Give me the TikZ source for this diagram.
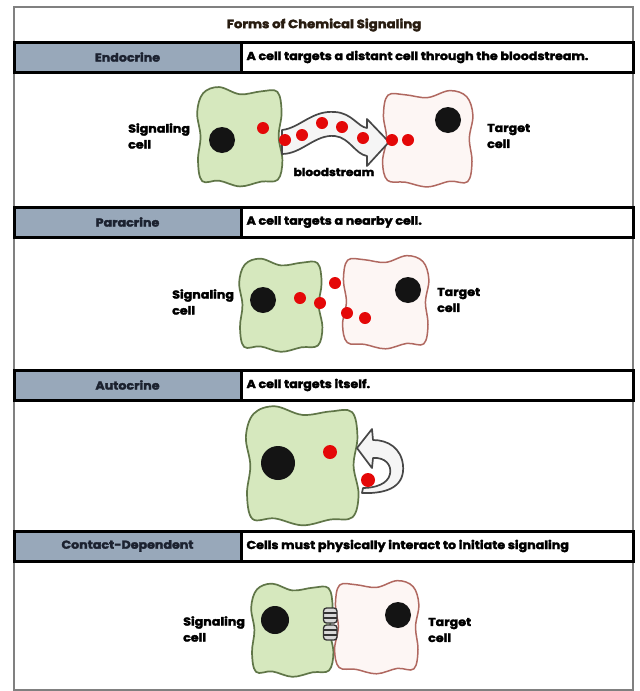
\documentclass[tikz,border=0pt]{standalone}
\usepackage{fontspec}
\setmainfont{Poppins}[BoldFeatures={FakeStretch=1.1,FakeBold=2.5}]
\definecolor{hdrgray}{RGB}{152,168,186}
\definecolor{hdrtext}{RGB}{28,34,48}
\definecolor{titletext}{RGB}{40,28,16}
\definecolor{sigfill}{RGB}{214,232,190}
\definecolor{sigline}{RGB}{96,118,72}
\definecolor{tgtfill}{RGB}{253,246,244}
\definecolor{tgtline}{RGB}{176,104,96}
\definecolor{ligred}{RGB}{228,8,8}
\tikzset{
  frame/.style={draw=black!50, line width=1.2pt},
  hdrbox/.style={draw=black, line width=3pt},
  hdrname/.style={font=\bfseries\fontsize{11.5}{13}\selectfont, text=hdrtext},
  hdrdesc/.style={font=\bfseries\fontsize{11.5}{13}\selectfont, anchor=west},
  lbl/.style={font=\bfseries\fontsize{11.5}{16}\selectfont, align=left, anchor=west, inner sep=0pt},
  sigcell/.style={draw=sigline, fill=sigfill, line width=1.7pt},
  tgtcell/.style={draw=tgtline, fill=tgtfill, line width=1.5pt},
  nucleus/.style={fill=black!92},
  ligand/.style={fill=ligred},
  hollowarrow/.style={draw=black!72, fill=black!4, line width=1.7pt, line join=round},
  % wavy cell outline in unit coordinates (y grows downwards)
  blob/.pic={
    \path[pic actions] plot[smooth cycle, tension=0.6] coordinates {
      (-0.88,-0.9) (-0.5,-1.03) (0,-0.88) (0.5,-0.94) (0.89,-0.93)
      (0.99,-0.5) (0.92,0) (1.01,0.5) (0.9,0.9)
      (0.5,0.94) (0,1.04) (-0.5,0.92) (-0.9,0.93)
      (-1.0,0.5) (-0.94,0) (-1.02,-0.5)};
  }
}
\begin{document}
\begin{tikzpicture}[x=1pt,y=-1pt]
\useasboundingbox (0,0) rectangle (640,691);
\fill[white] (0,0) rectangle (640,691);

% outer frame and title
\draw[frame] (14,7) rectangle (633,690);
\node[font=\bfseries\fontsize{12}{13}\selectfont, text=titletext] (title) at (324,25) {Forms of Chemical Signaling};

% header rows: name cell (gray) and description cell (white)
\foreach [count=\i] \y/\nm/\desc in {
    42/Endocrine/{A cell targets a distant cell through the bloodstream.},
    207/Paracrine/{A cell targets a nearby cell.},
    370/Autocrine/{A cell targets itself.},
    531/Contact-Dependent/{Cells must physically interact to initiate signaling}} {
  \fill[hdrgray] (14,\y) rectangle (241,\y+30);
  \fill[white] (241,\y) rectangle (633,\y+30);
  \draw[hdrbox] (14,\y) rectangle (633,\y+30);
  \draw[hdrbox] (241,\y) -- (241,\y+30);
  \node[hdrname] (name\i) at (127.5,\y+15) {\nm};
  \node[hdrdesc] (desc\i) at (243,\y+15) {\desc};
}

% ---------- Endocrine ----------
\pic[sigcell, xscale=42, yscale=48] at (240,136.5) {blob};
\pic[tgtcell, xscale=-44.5, yscale=46.5] at (427.5,138.5) {blob};
\fill[nucleus] (222,140) circle (13);
\fill[nucleus] (448,120) circle (13);
\path[hollowarrow] (282,130)
   .. controls (300,128) and (312,110) .. (335,112)
   .. controls (352,113) and (358,127) .. (367,128)
   -- (367,119) -- (389,142) -- (367,166) -- (367,156)
   .. controls (355,154) and (350,138) .. (335,136)
   .. controls (315,134) and (302,154) .. (282,154) -- cycle;
\foreach \p in {(263,128),(285,140),(302,135),(322,123),(342,127),(363,138),(392,140),(408,140)}
  \fill[ligand] \p circle (6);
\node[lbl] (endosig) at (128,136) {Signaling\\cell};
\node[lbl] (endotgt) at (487,136) {Target\\cell};
\node[font=\bfseries\fontsize{11}{12}\selectfont] (blood) at (334,172) {bloodstream};

% ---------- Paracrine ----------
\pic[sigcell, xscale=41, yscale=45] at (281,305) {blob};
\pic[tgtcell, xscale=-42.5, yscale=45] at (385.5,302) {blob};
\fill[nucleus] (263,300) circle (13);
\fill[nucleus] (408,290) circle (13);
\foreach \p in {(300,298),(320,303),(335,283),(347,313),(365,318)}
  \fill[ligand] \p circle (6);
\node[lbl] (parasig) at (172,302) {Signaling\\cell};
\node[lbl] (paratgt) at (437,300) {Target\\cell};

% ---------- Autocrine ----------
\pic[sigcell, xscale=55.5, yscale=57.5] at (302.5,465.5) {blob};
\fill[nucleus] (278,463) circle (17);
\path[hollowarrow] (362,493)
   .. controls (390,494) and (405,485) .. (403,465)
   .. controls (401,448) and (388,440) .. (373,440)
   -- (372,429) -- (357,448) -- (372,468) -- (373,458)
   .. controls (385,457) and (392,465) .. (390,474)
   .. controls (388,484) and (375,488) .. (363,488) -- cycle;
\fill[ligand] (330,452) circle (7);
\fill[ligand] (368,480) circle (7);

% ---------- Contact-Dependent ----------
\pic[sigcell, xscale=40.5, yscale=45] at (292.5,630) {blob};
\pic[tgtcell, xscale=-41.5, yscale=45] at (376.5,627) {blob};
\fill[nucleus] (275,620) circle (14);
\fill[nucleus] (398,615) circle (13);
% junction proteins between the two membranes
\foreach \yy in {608,625} {
  \draw[fill=black!15, draw=black!80, line width=1.3pt, rounded corners=3pt]
    (323.5,\yy) rectangle (337,\yy+15);
  \draw[black!80, line width=1.1pt] (324,\yy+5) -- (336.5,\yy+5) (324,\yy+10) -- (336.5,\yy+10);
}
\node[lbl] (consig) at (183,629) {Signaling\\cell};
\node[lbl] (contgt) at (428,630) {Target\\cell};
\end{tikzpicture}
\end{document}
